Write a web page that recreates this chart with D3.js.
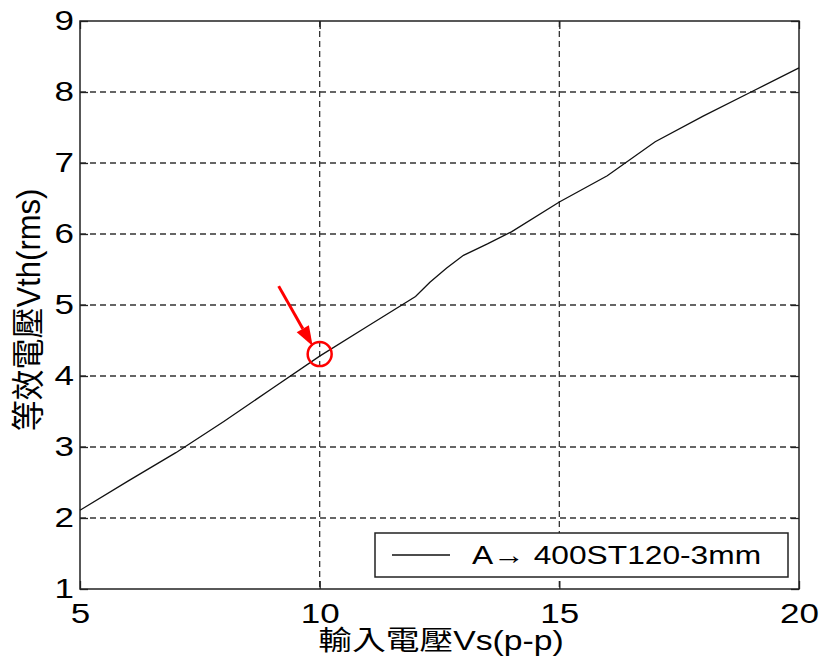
<!DOCTYPE html>
<html>
<head>
<meta charset="utf-8">
<script src="https://cdn.jsdelivr.net/npm/d3@7"></script>
<style>
  html, body { margin: 0; padding: 0; background: #fff; }
  text { font-family: "Liberation Sans", Arial, "Noto Sans CJK TC", sans-serif; fill: #000; }
</style>
</head>
<body>
<svg id="chart" width="819" height="666"></svg>
<script>
// curve
var vsValues = [5, 6, 7, 8, 9, 10, 11, 12, 12.3, 12.65, 13, 13.5, 14, 15, 16, 17, 18, 19, 20];
var vthValues = [2.11, 2.52, 2.92, 3.36, 3.82, 4.28, 4.70, 5.12, 5.32, 5.52, 5.70, 5.86, 6.03, 6.45, 6.82, 7.30, 7.66, 8.00, 8.34];
var xTicks = [5, 10, 15, 20];
var yTicks = [1, 2, 3, 4, 5, 6, 7, 8, 9];
var seriesName = "A\u2192 400ST120-3mm";
var xTitle = "輸入電壓Vs(p-p)";
var yTitle = "等效電壓Vth(rms)";
var marked = [10, 4.28];

var svg = d3.select("#chart");
var pLeft = 80, pRight = 799, pTop = 21, pBottom = 589;
var stretch = 1.25;

var x = d3.scaleLinear().domain([5, 20]).range([pLeft, pRight]);
var y = d3.scaleLinear().domain([1, 9]).range([pBottom, pTop]);

svg.append("rect").attr("width", 819).attr("height", 666).attr("fill", "#fff");

// dashed grid
var grid = svg.append("g").attr("stroke", "#333").attr("stroke-width", 1.3).attr("stroke-dasharray", "6,4");
grid.selectAll("line.gx").data(xTicks.slice(1, -1)).enter().append("line")
  .attr("x1", d => x(d)).attr("x2", d => x(d)).attr("y1", pTop).attr("y2", pBottom);
grid.selectAll("line.gy").data(yTicks.slice(1, -1)).enter().append("line")
  .attr("y1", d => y(d)).attr("y2", d => y(d)).attr("x1", pLeft).attr("x2", pRight);

// axes with inward ticks on all four sides
var tickLen = 8;
svg.append("g").attr("transform", "translate(0," + pBottom + ")")
  .call(d3.axisBottom(x).tickValues(xTicks).tickSizeInner(-tickLen).tickSizeOuter(0).tickPadding(14));
svg.append("g").attr("transform", "translate(0," + pTop + ")")
  .call(d3.axisTop(x).tickValues(xTicks).tickSizeInner(-tickLen).tickSizeOuter(0).tickFormat(""));
svg.append("g").attr("transform", "translate(" + pLeft + ",0)")
  .call(d3.axisLeft(y).tickValues(yTicks).tickSizeInner(-tickLen).tickSizeOuter(0).tickPadding(6));
svg.append("g").attr("transform", "translate(" + pRight + ",0)")
  .call(d3.axisRight(y).tickValues(yTicks).tickSizeInner(-tickLen).tickSizeOuter(0).tickFormat(""));

svg.selectAll(".domain").remove();
svg.selectAll(".tick line").attr("stroke", "#222").attr("stroke-width", 1.3);
svg.selectAll(".tick text").attr("font-size", 28).attr("font-family", null).attr("fill", "#000");

// stretch tick labels horizontally like the original
svg.selectAll(".tick text").each(function () {
  var t = d3.select(this);
  var bb = this.getBBox();
  var anchor = t.attr("text-anchor") || getComputedStyle(this.parentNode.parentNode).textAnchor;
  var ax = anchor === "end" ? bb.x + bb.width : (anchor === "middle" ? bb.x + bb.width / 2 : bb.x);
  t.attr("transform", "translate(" + ax + ",0) scale(" + stretch + ",1) translate(" + (-ax) + ",0)");
});

// frame
svg.append("rect").attr("x", pLeft).attr("y", pTop).attr("width", pRight - pLeft).attr("height", pBottom - pTop)
  .attr("fill", "none").attr("stroke", "#222").attr("stroke-width", 1.5);

// curve
var line = d3.line().x((d, i) => x(vsValues[i])).y(d => y(d));
svg.append("path").datum(vthValues).attr("d", line)
  .attr("fill", "none").attr("stroke", "#111").attr("stroke-width", 1.3);

// legend
var lg = svg.append("g");
lg.append("rect").attr("x", 375).attr("y", 533).attr("width", 413).attr("height", 44)
  .attr("fill", "#fff").attr("stroke", "#222").attr("stroke-width", 1.5);
lg.append("line").attr("x1", 392).attr("x2", 450).attr("y1", 555).attr("y2", 555)
  .attr("stroke", "#111").attr("stroke-width", 1.3);
lg.append("text").attr("font-size", 26)
  .attr("transform", "translate(472,564) scale(1.22,1)")
  .text(seriesName);

// axis titles
svg.append("text").attr("font-size", 27).attr("text-anchor", "middle")
  .attr("transform", "translate(441,650) scale(" + stretch + ",1)")
  .text(xTitle);
svg.append("text").attr("font-size", 31).attr("text-anchor", "middle")
  .attr("transform", "translate(40,310) rotate(-90) scale(1,1.08)")
  .text(yTitle);

// red marker and arrow
var cx = x(marked[0]), cy = y(marked[1]);
svg.append("circle").attr("cx", cx).attr("cy", cy - 2).attr("r", 12)
  .attr("fill", "none").attr("stroke", "#f00").attr("stroke-width", 2.5);
var ax0 = cx - 41, ay0 = cy - 70, ax1 = cx - 7, ay1 = cy - 10;
var ang = Math.atan2(ay1 - ay0, ax1 - ax0);
var hl = 20, hw = 7;
var bx = ax1 - hl * Math.cos(ang), by = ay1 - hl * Math.sin(ang);
svg.append("line").attr("x1", ax0).attr("y1", ay0).attr("x2", bx).attr("y2", by)
  .attr("stroke", "#f00").attr("stroke-width", 3);
svg.append("path")
  .attr("d", "M" + ax1 + "," + ay1 +
    "L" + (bx + hw * Math.sin(ang)) + "," + (by - hw * Math.cos(ang)) +
    "L" + (bx - hw * Math.sin(ang)) + "," + (by + hw * Math.cos(ang)) + "Z")
  .attr("fill", "#f00");
</script>
</body>
</html>
